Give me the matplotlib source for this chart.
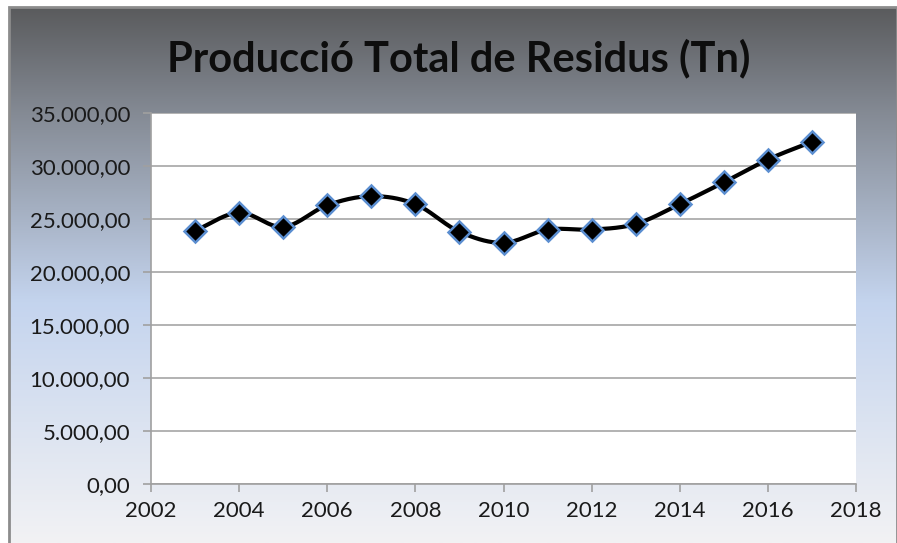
import numpy as np
import matplotlib
matplotlib.use("Agg")
import matplotlib.pyplot as plt
from matplotlib.colors import LinearSegmentedColormap
from matplotlib.ticker import FuncFormatter, MultipleLocator
from matplotlib.patches import Rectangle

years = [2003, 2004, 2005, 2006, 2007, 2008, 2009, 2010, 2011, 2012, 2013, 2014, 2015, 2016, 2017]
values = [23900, 25600, 24250, 26300, 27150, 26400, 23800, 22750, 24000, 24000, 24530, 26400, 28460, 30610, 32290]
title = "Producció Total de Residus (Tn)"

plt.rcParams['font.family'] = ['Lato', 'DejaVu Sans']

W, H = 897, 543
fig = plt.figure(figsize=(W / 100, H / 100), dpi=100)
fig.patch.set_facecolor('white')

# background gradient panel
bg = fig.add_axes([9 / W, 0, (W - 9) / W, (H - 7) / H])
bg.set_axis_off()
cmap = LinearSegmentedColormap.from_list('bg', [
    (0.0, '#5a5b5d'), (0.2, '#858b95'), (0.55, '#c4d4ee'), (1.0, '#f2f2f4')])
grad = np.linspace(0, 1, 256).reshape(-1, 1)
bg.imshow(grad, aspect='auto', cmap=cmap, extent=[0, 1, 0, 1], origin='upper')
bg.add_patch(Rectangle((0, -0.05), 1, 1.05, transform=bg.transAxes, fill=False,
                       edgecolor='#8c8c8c', linewidth=2.0, clip_on=False))
bg.set_xlim(0, 1)
bg.set_ylim(0, 1)

ax = fig.add_axes([151 / W, (H - 484) / H, (856 - 151) / W, (484 - 113) / H])
ax.set_facecolor('white')
ax.set_xlim(2002, 2018)
ax.set_ylim(0, 35000)
ax.xaxis.set_major_locator(MultipleLocator(2))
ax.yaxis.set_major_locator(MultipleLocator(5000))


def fmt(v, pos):
    s = f"{v:,.2f}"
    return s.replace(',', 'X').replace('.', ',').replace('X', '.')


ax.yaxis.set_major_formatter(FuncFormatter(fmt))
ax.xaxis.set_major_formatter(FuncFormatter(lambda v, p: f"{int(v)}"))
ax.grid(axis='y', color='#a6a6a6', linewidth=1.2)
ax.set_axisbelow(True)
for s in ['top', 'right']:
    ax.spines[s].set_visible(False)
for s in ['left', 'bottom']:
    ax.spines[s].set_color('#a0a0a0')
    ax.spines[s].set_linewidth(1.2)
ax.tick_params(axis='both', direction='out', colors='#a0a0a0', labelcolor='#1a1a1a',
               labelsize=16, length=6, width=1.2)
ax.tick_params(axis='x', pad=6)
ax.tick_params(axis='y', pad=9)

# Catmull-Rom smoothing (Excel-style smooth line)
x = np.array(years, dtype=float)
y = np.array(values, dtype=float)
px = np.concatenate([[2 * x[0] - x[1]], x, [2 * x[-1] - x[-2]]])
py = np.concatenate([[2 * y[0] - y[1]], y, [2 * y[-1] - y[-2]]])
sx, sy = [], []
t = np.linspace(0, 1, 30)
for i in range(1, len(px) - 2):
    p0, p1, p2, p3 = px[i - 1], px[i], px[i + 1], px[i + 2]
    q0, q1, q2, q3 = py[i - 1], py[i], py[i + 1], py[i + 2]
    for (a0, a1, a2, a3, out) in [(p0, p1, p2, p3, sx), (q0, q1, q2, q3, sy)]:
        c = 0.5 * ((2 * a1) + (-a0 + a2) * t + (2 * a0 - 5 * a1 + 4 * a2 - a3) * t ** 2
                   + (-a0 + 3 * a1 - 3 * a2 + a3) * t ** 3)
        out.extend(c.tolist())
ax.plot(sx, sy, color='black', linewidth=3.0, solid_capstyle='round', zorder=3)
ax.plot(x, y, linestyle='none', marker='D', markersize=11, markerfacecolor='black',
        markeredgecolor='#5b8ed0', markeredgewidth=1.8, zorder=4)

fig.text(459 / W, 1 - 58 / H, title, ha='center', va='center', fontsize=30,
         fontweight='bold', color='#0d0d0d')

fig.savefig('out.png', dpi=100)
